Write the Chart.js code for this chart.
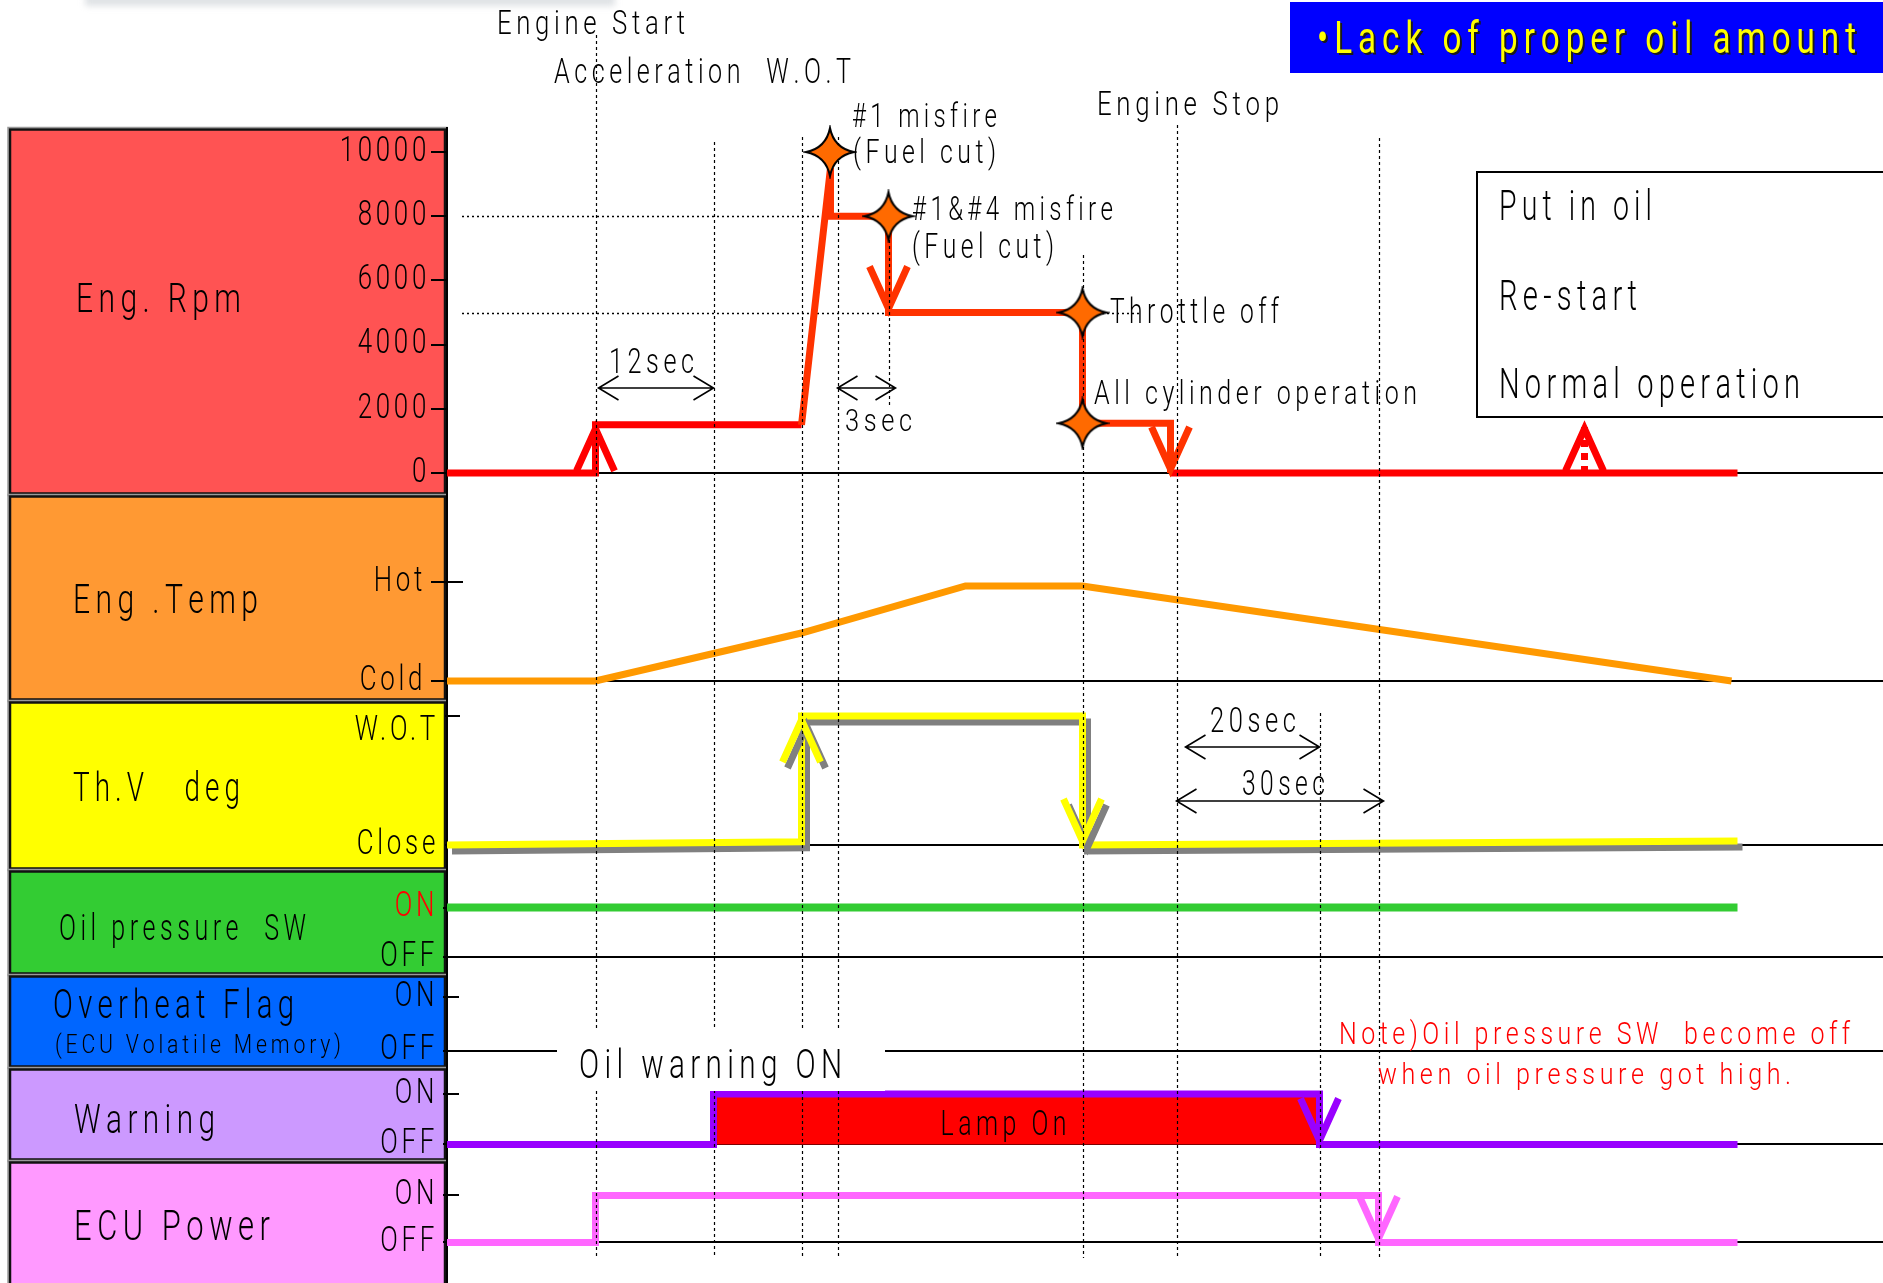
<!DOCTYPE html>
<html>
<head>
<meta charset="utf-8">
<title>Lack of proper oil amount - timing chart</title>
<script src="https://cdn.jsdelivr.net/npm/chart.js@4.4.1/dist/chart.umd.min.js"></script>
<style>
  html, body { margin: 0; padding: 0; background: #ffffff; overflow: hidden; }
  canvas { display: block; }
</style>
</head>
<body>
<canvas id="timing" width="1883" height="1283"></canvas>
<script>
// ---------- time axis (schematic units, 0 = engine start) ----------
const T_MIN = -14.85;
const T_MAX = 128.75;

// ---------- signal traces ----------
const rpmT = [T_MIN, 0, 0, 20.6, 23.5, 23.5, 29.3, 29.3, 48.7, 48.7, 57.5, 57.5, 114.2];
const rpmV = [0, 0, 1500, 1500, 9500, 8000, 8000, 5000, 5000, 1550, 1550, 0, 0];

const restartT = [98.9, 98.9];
const restartV = [0, 1500];

const starT = [23.45, 29.3, 48.7, 48.7];
const starV = [10000, 8000, 5000, 1550];

const tempT = [T_MIN, 0, 20.6, 37.0, 48.7, 113.6];
const tempV = [0, 0, 48.5, 96, 96, 0];          // 0 = Cold, 100 = Hot

const thvT = [T_MIN, 20.6, 20.6, 48.7, 48.7, 114.2];
const thvV = [0, 2.5, 100, 100, 0, 3];           // 0 = Close, 100 = W.O.T

const oilT = [T_MIN, 114.2];
const oilV = [1, 1];

const warnT = [T_MIN, 11.8, 11.8, 72.4, 72.4, 114.2];
const warnV = [0, 0, 1, 1, 0, 0];

const ecuT = [T_MIN, 0, 0, 78.3, 78.3, 114.2];
const ecuV = [0, 0, 1, 1, 0, 0];

// ---------- tick labels ----------
const rpmTicks = [0, 2000, 4000, 6000, 8000, 10000];
const rpmLabels = ['0', '2000', '4000', '6000', '8000', '10000'];
const tempTicks = [0, 100];
const tempLabels = ['Cold', 'Hot'];
const thvTicks = [0, 100];
const thvLabels = ['Close', ['', 'W.O.T']];
const switchTicks = [0, 1];
const switchLabels = ['OFF', 'ON'];

// ---------- event markers (time of each dashed line) ----------
const eventT = [0, 11.8, 20.6, 24.2, 29.3, 48.7, 58.1, 72.4, 78.3];
const eventTop = [35, 142, 137, 137, 216, 255, 125, 713, 138];
const eventBottom = [1258, 1258, 1258, 1258, 408, 1258, 1258, 1258, 1258];

// ---------- fonts ----------
function fontAvailable(name) {
  const c = document.createElement('canvas').getContext('2d');
  const s = 'mmmWWWiiil 10000 Engine Start';
  c.font = '40px monospace';
  const a = c.measureText(s).width;
  c.font = '40px "' + name + '", monospace';
  const b = c.measureText(s).width;
  return Math.abs(a - b) > 0.5;
}
const FAMILY = fontAvailable('Roboto') ? 'Roboto, "Liberation Sans", sans-serif' : '"Liberation Sans", Arial, sans-serif';
const WEIGHT = 300;
const TICK_SIZE = 35;
const TICK_SX = 0.74;   // horizontal squeeze of axis labels
const TICK_LS = '5px';  // letter spacing of axis labels

// ---------- helpers ----------
const pts = (t, v) => t.map((x, i) => ({ x, y: v[i] }));

function drawText(ctx, str, x, y, size, width, color, shadow, weight) {
  ctx.save();
  ctx.font = (weight || WEIGHT) + ' ' + size + 'px ' + FAMILY;
  ctx.letterSpacing = '0px';
  ctx.textBaseline = 'alphabetic';
  ctx.textAlign = 'left';
  const gap = size * 0.18;
  const chars = Array.from(str);
  const ws = chars.map(ch => ctx.measureText(ch).width);
  const natural = ws.reduce((a, b) => a + b, 0) + gap * (chars.length - 1);
  const sx = width ? width / natural : 1;
  ctx.translate(x, y);
  ctx.scale(sx, 1);
  const pass = (col, dx, dy) => {
    let cx = 0;
    ctx.fillStyle = col;
    chars.forEach((ch, i) => { ctx.fillText(ch, cx + dx, dy); cx += ws[i] + gap; });
  };
  if (shadow) pass(shadow, 2 / sx, 2);
  pass(color, 0, 0);
  ctx.restore();
}

function arrowHead(ctx, tip, from, color, lw) {
  const len = 42, half = 19;
  const dx = tip.x - from.x, dy = tip.y - from.y;
  const d = Math.hypot(dx, dy) || 1;
  const ux = dx / d, uy = dy / d, px = -uy, py = ux;
  const ax = tip.x - ux * 4, ay = tip.y - uy * 4;
  ctx.beginPath();
  ctx.moveTo(ax - ux * len + px * half, ay - uy * len + py * half);
  ctx.lineTo(ax, ay);
  ctx.lineTo(ax - ux * len - px * half, ay - uy * len - py * half);
  ctx.setLineDash([]);
  ctx.strokeStyle = color;
  ctx.lineWidth = lw;
  ctx.lineJoin = 'miter';
  ctx.lineCap = 'butt';
  ctx.stroke();
}

function dimArrow(ctx, x1, x2, y) {
  ctx.save();
  ctx.strokeStyle = '#000';
  ctx.lineWidth = 1.6;
  ctx.setLineDash([]);
  ctx.beginPath();
  ctx.moveTo(x1, y); ctx.lineTo(x2, y);
  ctx.moveTo(x1 + 20, y - 12); ctx.lineTo(x1, y); ctx.lineTo(x1 + 20, y + 12);
  ctx.moveTo(x2 - 20, y - 12); ctx.lineTo(x2, y); ctx.lineTo(x2 - 20, y + 12);
  ctx.stroke();
  ctx.restore();
}

// four-point star used for the misfire / throttle markers
function makeStar() {
  const c = document.createElement('canvas');
  c.width = 54; c.height = 54;
  const g = c.getContext('2d');
  const cx = 27, cy = 27, R = 24, q = 4;
  const tips = [[cx, cy - R], [cx + R, cy], [cx, cy + R], [cx - R, cy]];
  const ctrl = [[cx + q, cy - q], [cx + q, cy + q], [cx - q, cy + q], [cx - q, cy - q]];
  g.beginPath();
  g.moveTo(tips[0][0], tips[0][1]);
  for (let k = 0; k < 4; k++) {
    const n = tips[(k + 1) % 4];
    g.quadraticCurveTo(ctrl[k][0], ctrl[k][1], n[0], n[1]);
  }
  g.closePath();
  g.fillStyle = '#ff6a00';
  g.fill();
  g.lineWidth = 2;
  g.strokeStyle = '#000';
  g.stroke();
  return c;
}

// ---------- row layout (one stacked y axis per signal) ----------
const AXIS_X = 447;
const rows = [
  { id: 'yRpm',  band: 367, min: -685,   max: 10748, ticks: rpmTicks,    labels: rpmLabels,    out: 16, inn: 0,  pad: 1, fill: '#ff5353' },
  { id: 'yTemp', band: 206, min: -20.2,  max: 187.9, ticks: tempTicks,   labels: tempLabels,   out: 16, inn: 16, pad: 5, fill: '#ff9933' },
  { id: 'yThv',  band: 169, min: -19.4,  max: 111.6, ticks: thvTicks,    labels: thvLabels,    out: 2,  inn: 13, pad: 6, fill: '#ffff00', lh: 0.86 },
  { id: 'yOil',  band: 105, min: -0.364, max: 1.758, ticks: switchTicks, labels: switchLabels, out: 4,  inn: 12, pad: 5, fill: '#33cc33', redOn: true },
  { id: 'yHeat', band: 93,  min: -0.327, max: 1.411, ticks: switchTicks, labels: switchLabels, out: 4,  inn: 12, pad: 5, fill: '#0066ff' },
  { id: 'yWarn', band: 93,  min: -0.327, max: 1.515, ticks: switchTicks, labels: switchLabels, out: 4,  inn: 12, pad: 5, fill: '#cc99ff' },
  { id: 'yEcu',  band: 122, min: -0.862, max: 1.734, ticks: switchTicks, labels: switchLabels, out: 4,  inn: 12, pad: 5, fill: '#ff99ff' }
];

// panel captions: text, left, baseline, size, width
const panelText = [
  ['Eng. Rpm', 76, 312, 41, 165],
  ['Eng .Temp', 73, 613, 40, 185],
  ['Th.V   deg', 73, 801, 41, 167],
  ['Oil pressure  SW', 59, 940, 36, 247],
  ['Overheat Flag', 53, 1018, 40, 241],
  ['(ECU Volatile Memory)', 55, 1053, 26, 286],
  ['Warning', 74, 1133, 40, 141],
  ['ECU Power', 74, 1240, 43, 196]
];

// annotation text: text, left, baseline, size, width, colour
const notes = [
  ['Engine Start', 497, 34, 33, 188, '#000'],
  ['Acceleration  W.O.T', 554, 83, 35, 297, '#000'],
  ['#1 misfire', 852, 127, 34, 145, '#000'],
  ['(Fuel cut)', 853, 163, 34, 143, '#000'],
  ['#1&#4 misfire', 912, 220, 33, 201, '#000'],
  ['(Fuel cut)', 912, 258, 35, 142, '#000'],
  ['Throttle off', 1110, 323, 35, 169, '#000'],
  ['All cylinder operation', 1094, 404, 34, 323, '#000'],
  ['Engine Stop', 1097, 115, 33, 182, '#000'],
  ['12sec', 609, 373, 35, 85, '#000'],
  ['3sec', 845, 431, 31, 67, '#000'],
  ['20sec', 1210, 732, 35, 86, '#000'],
  ['30sec', 1242, 795, 35, 83, '#000'],
  ['Note)Oil pressure SW  become off', 1339, 1044, 32, 511, '#ff0000'],
  ['when oil pressure got high.', 1378, 1084, 29, 413, '#ff0000'],
  ['Put in oil', 1499, 220, 42, 153, '#000'],
  ['Re-start', 1499, 310, 42, 138, '#000'],
  ['Normal operation', 1499, 398, 42, 301, '#000']
];

// interval arrows: from time, to time, pixel row
const spans = [
  { a: 0.3, b: 11.8, y: 388 },
  { a: 24.2, b: 30.0, y: 388 },
  { a: 59.0, b: 72.4, y: 747 },
  { a: 58.1, b: 78.8, y: 801 }
];

// ---------- scales ----------
function axisFor(r, k) {
  return {
    type: 'linear', position: 'left', stack: 'rows', stackWeight: r.band, weight: 100 - k,
    min: r.min, max: r.max, bounds: 'data',
    afterFit: s => {
      s.width = AXIS_X;
      s.paddingTop = 0; s.paddingBottom = 0; s.paddingLeft = 0; s.paddingRight = 0;
    },
    afterBuildTicks: s => { s.ticks = r.ticks.map(v => ({ value: v })); },
    ticks: {
      autoSkip: false,
      padding: r.pad,
      color: c => (r.redOn && c.tick && c.tick.value === 1 ? '#ff0000' : '#000'),
      font: { family: FAMILY, size: TICK_SIZE, weight: WEIGHT, lineHeight: r.lh || 1.2 },
      callback: v => r.labels[r.ticks.indexOf(v)]
    },
    grid: {
      color: c => (c.tick && c.tick.value === 0 ? '#000' : 'rgba(0,0,0,0)'),
      lineWidth: 2,
      drawTicks: r.out > 0,
      tickLength: r.out,
      tickColor: '#000',
      tickWidth: 2
    },
    border: { display: true, color: '#000', width: 2 }
  };
}
const scales = { x: { type: 'linear', min: T_MIN, max: T_MAX, display: false, bounds: 'data' } };
rows.forEach((r, k) => { scales[r.id] = axisFor(r, k); });

const rpmSegColor = i => ([0, 1, 2, 11].includes(i) ? '#ff0000' : '#ff3300');

// axis labels are drawn by the scales themselves, squeezed sideways about their anchor
function squeezeLabels(chart) {
  rows.forEach(r => {
    const s = chart.scales[r.id];
    if (!s || s._squeezed) return;
    const orig = s.drawLabels;
    s.drawLabels = function (area) {
      const items = this.getLabelItems(area);
      const ax = items.length ? items[0].options.translation[0] : AXIS_X;
      const ctx = this.ctx;
      ctx.save();
      ctx.letterSpacing = TICK_LS;
      ctx.translate(ax, 0);
      ctx.scale(TICK_SX, 1);
      ctx.translate(-ax, 0);
      orig.call(this, area);
      ctx.restore();
    };
    s._squeezed = true;
  });
}

// ---------- decorations drawn around the datasets ----------
const decor = {
  id: 'decor',
  beforeDraw(chart) {
    squeezeLabels(chart);
    const ctx = chart.ctx;
    ctx.save();
    ctx.fillStyle = '#ffffff';
    ctx.fillRect(0, 0, chart.width, chart.height);
    // faint smear along the top edge
    ctx.filter = 'blur(3px)';
    ctx.fillStyle = 'rgba(196,202,208,0.55)';
    ctx.fillRect(85, -6, 530, 12);
    ctx.filter = 'none';
    // coloured caption panels
    rows.forEach((r, k) => {
      const s = chart.scales[r.id];
      const top = s.top + 1.5;
      const bot = k === rows.length - 1 ? chart.height + 6 : s.bottom - 1.5;
      ctx.fillStyle = r.fill;
      ctx.fillRect(10, top, 435, bot - top);
      ctx.lineWidth = 1.5;
      ctx.strokeStyle = '#9a9a9a';
      ctx.strokeRect(8, top - 2, 439, bot - top + 4);
      ctx.lineWidth = 2.5;
      ctx.strokeStyle = '#111';
      ctx.strokeRect(10, top, 435, bot - top);
    });
    panelText.forEach(p => drawText(ctx, p[0], p[1], p[2], p[3], p[4], '#000'));
    ctx.restore();
  },
  beforeDatasetsDraw(chart) {
    const ctx = chart.ctx;
    ctx.save();
    // inward tick marks
    ctx.strokeStyle = '#000';
    ctx.lineWidth = 2;
    rows.forEach(r => {
      if (!r.inn) return;
      const s = chart.scales[r.id];
      r.ticks.forEach(v => {
        const y = Math.round(s.getPixelForValue(v));
        ctx.beginPath(); ctx.moveTo(AXIS_X - 1, y); ctx.lineTo(AXIS_X + r.inn, y); ctx.stroke();
      });
    });
    // dotted guide lines at 8000 and 5000 rpm
    const ys = chart.scales.yRpm, xs = chart.scales.x;
    ctx.lineWidth = 1.3;
    ctx.setLineDash([2, 3]);
    [[8000, xs.getPixelForValue(23.5)], [5000, xs.getPixelForValue(48.7) + 58]].forEach(([v, x2]) => {
      const y = Math.round(ys.getPixelForValue(v)) + 0.5;
      ctx.beginPath(); ctx.moveTo(462, y); ctx.lineTo(x2, y); ctx.stroke();
    });
    ctx.restore();
  },
  beforeDatasetDraw(chart, args) {
    const ds = chart.data.datasets[args.index];
    const ctx = chart.ctx;
    if (ds.markers) {
      // event lines go under the star markers
      const xs = chart.scales.x;
      ctx.save();
      ctx.strokeStyle = '#000';
      ctx.lineWidth = 1.2;
      ctx.setLineDash([3, 3]);
      eventT.forEach((t, i) => {
        const x = Math.round(xs.getPixelForValue(t)) + 0.5;
        ctx.beginPath(); ctx.moveTo(x, eventTop[i]); ctx.lineTo(x, eventBottom[i]); ctx.stroke();
      });
      ctx.restore();
    }
    if (ds.shadow) {
      ctx.save();
      ctx.shadowColor = ds.shadow;
      ctx.shadowOffsetX = 5;
      ctx.shadowOffsetY = 6;
      ctx.shadowBlur = 0;
    }
  },
  afterDatasetDraw(chart, args) {
    const ds = chart.data.datasets[args.index];
    const ctx = chart.ctx;
    if (ds.arrowAt) {
      const p = args.meta.data;
      ds.arrowAt.forEach(i => {
        const col = ds.arrowColor ? ds.arrowColor(i - 1) : ds.borderColor;
        arrowHead(ctx, p[i], p[i - 1], col, ds.borderWidth);
      });
    }
    if (ds.shadow) ctx.restore();
  },
  afterDatasetsDraw(chart) {
    const ctx = chart.ctx;
    const xs = chart.scales.x;
    ctx.save();
    // interval arrows
    spans.forEach(s => dimArrow(ctx, xs.getPixelForValue(s.a), xs.getPixelForValue(s.b), s.y));
    // label on the overheat baseline
    ctx.fillStyle = '#ffffff';
    ctx.fillRect(557, 1030, 328, 61);
    drawText(ctx, 'Oil warning ON', 579, 1078, 40, 263, '#000');
    // lamp caption, placed over the lamp-on interval
    const lamp = chart.getDatasetMeta(chart.data.datasets.findIndex(d => d.lamp)).data;
    const cx = (lamp[0].x + lamp[1].x) / 2;
    drawText(ctx, 'Lamp On', cx - 76, 1135, 35, 126, '#000');
    // procedure box
    ctx.fillStyle = '#ffffff';
    ctx.fillRect(1477, 172, 420, 245);
    ctx.strokeStyle = '#000';
    ctx.lineWidth = 2;
    ctx.strokeRect(1477, 172, 420, 245);
    // title block
    ctx.fillStyle = '#0000ff';
    ctx.fillRect(1290, 2, 600, 71);
    drawText(ctx, '\u2022Lack of proper oil amount', 1317, 53, 44, 539, '#ffff00', '#1a1a1a', 400);
    notes.forEach(n => drawText(ctx, n[0], n[1], n[2], n[3], n[4], n[5]));
    ctx.restore();
  }
};

// ---------- chart ----------
const lampOn = [{ x: warnT[2], y: warnV[2] }, { x: warnT[3], y: warnV[3] }];

new Chart(document.getElementById('timing'), {
  type: 'line',
  data: {
    datasets: [
      { label: 'Misfire / throttle events', data: pts(starT, starV), yAxisID: 'yRpm', showLine: false,
        pointStyle: makeStar(), pointRadius: 24, clip: false, markers: true },
      { label: 'Eng. Rpm', data: pts(rpmT, rpmV), yAxisID: 'yRpm', borderColor: '#ff0000', borderWidth: 7,
        segment: { borderColor: c => rpmSegColor(c.p0DataIndex) }, arrowAt: [2, 7, 11], arrowColor: rpmSegColor, clip: false },
      { label: 'Re-start', data: pts(restartT, restartV), yAxisID: 'yRpm', borderColor: '#ff0000', borderWidth: 7,
        borderDash: [7, 6], arrowAt: [1], clip: false },
      { label: 'Eng. Temp', data: pts(tempT, tempV), yAxisID: 'yTemp', borderColor: '#ff9900', borderWidth: 7, clip: false },
      { label: 'Th.V deg', data: pts(thvT, thvV), yAxisID: 'yThv', borderColor: '#ffff00', borderWidth: 7,
        shadow: '#808080', arrowAt: [2, 4], clip: false },
      { label: 'Oil pressure SW', data: pts(oilT, oilV), yAxisID: 'yOil', borderColor: '#33cc33', borderWidth: 8, clip: false },
      { label: 'Warning', data: pts(warnT, warnV), yAxisID: 'yWarn', borderColor: '#9900ff', borderWidth: 7,
        arrowAt: [4], clip: false },
      { label: 'Lamp On', data: lampOn, yAxisID: 'yWarn', borderWidth: 0, borderColor: 'rgba(0,0,0,0)',
        backgroundColor: '#ff0000', fill: 'origin', lamp: true, clip: false },
      { label: 'ECU Power', data: pts(ecuT, ecuV), yAxisID: 'yEcu', borderColor: '#ff66ff', borderWidth: 7,
        arrowAt: [4], clip: false }
    ]
  },
  options: {
    responsive: false,
    animation: false,
    devicePixelRatio: 1,
    events: [],
    layout: { padding: { top: 128, left: 0, right: 0, bottom: 0 }, autoPadding: false },
    plugins: { legend: { display: false }, tooltip: { enabled: false } },
    elements: {
      line: { tension: 0, borderJoinStyle: 'miter', borderCapStyle: 'butt' },
      point: { radius: 0, hoverRadius: 0 }
    },
    scales
  },
  plugins: [decor]
});
</script>
</body>
</html>
